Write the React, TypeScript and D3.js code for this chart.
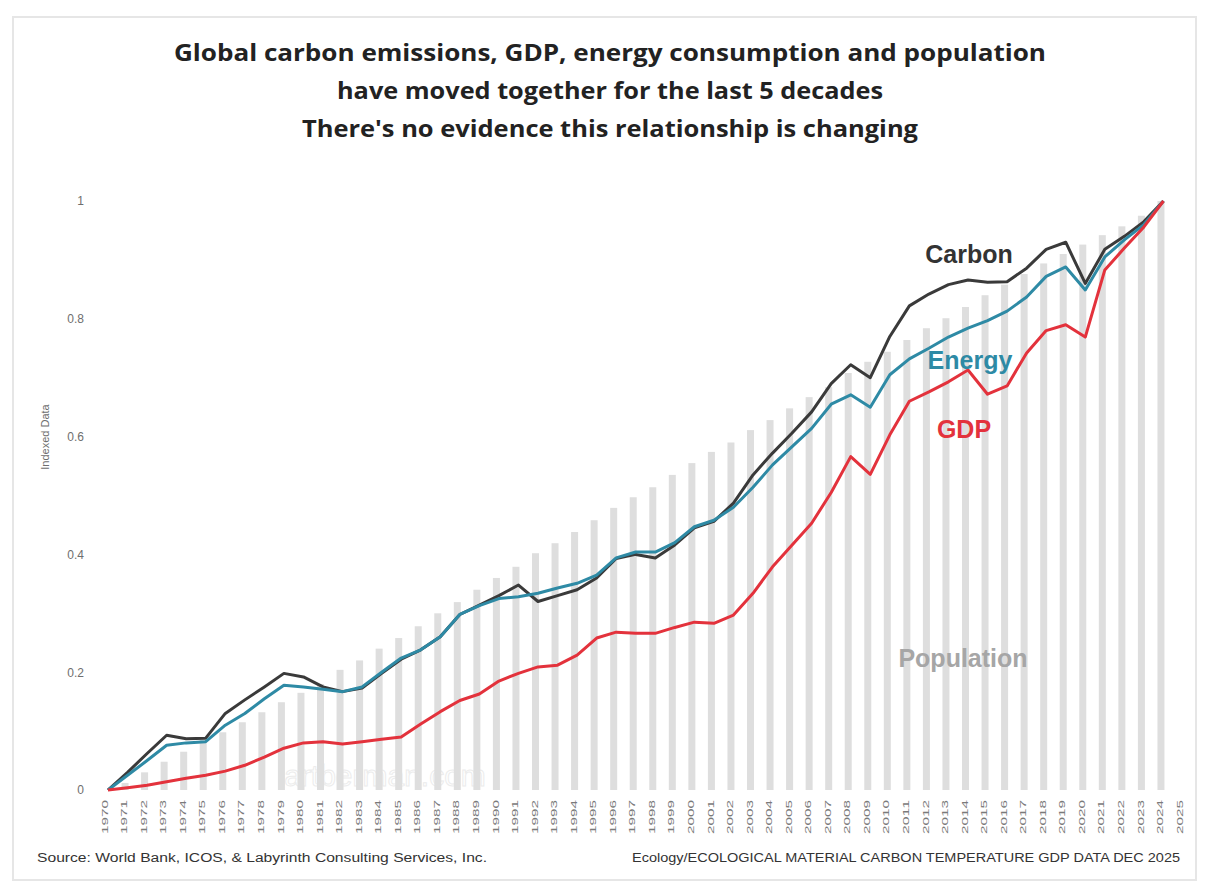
import { useEffect, useRef } from 'react';
import * as d3 from 'd3';

const years = [
  1970, 1971, 1972, 1973, 1974, 1975, 1976, 1977, 1978, 1979,
  1980, 1981, 1982, 1983, 1984, 1985, 1986, 1987, 1988, 1989,
  1990, 1991, 1992, 1993, 1994, 1995, 1996, 1997, 1998, 1999,
  2000, 2001, 2002, 2003, 2004, 2005, 2006, 2007, 2008, 2009,
  2010, 2011, 2012, 2013, 2014, 2015, 2016, 2017, 2018, 2019,
  2020, 2021, 2022, 2023, 2024, 2025,
];

// indexed values 1970..2024
const carbon = [
  0, 0.03, 0.062, 0.093, 0.087, 0.088, 0.13, 0.153, 0.175, 0.198,
  0.192, 0.175, 0.167, 0.173, 0.198, 0.222, 0.238, 0.26, 0.298, 0.314,
  0.33, 0.348, 0.32, 0.33, 0.34, 0.36, 0.393, 0.4, 0.394, 0.416,
  0.445, 0.456, 0.487, 0.535, 0.572, 0.606, 0.642, 0.69, 0.722, 0.7,
  0.77, 0.822, 0.842, 0.858, 0.866, 0.862, 0.863, 0.886, 0.918, 0.93,
  0.86, 0.918, 0.94, 0.965, 1.0,
];
const energy = [
  0, 0.025, 0.05, 0.076, 0.08, 0.082, 0.11, 0.13, 0.155, 0.178,
  0.175, 0.171, 0.167, 0.175, 0.2, 0.224, 0.238, 0.26, 0.298, 0.313,
  0.325, 0.328, 0.334, 0.343, 0.351, 0.365, 0.394, 0.404, 0.404, 0.42,
  0.447, 0.458, 0.48, 0.514, 0.552, 0.583, 0.614, 0.655, 0.671, 0.65,
  0.705, 0.732, 0.75, 0.769, 0.784, 0.797, 0.813, 0.837, 0.872, 0.888,
  0.849, 0.905, 0.934, 0.96, 1.0,
];
const gdp = [
  0, 0.004, 0.008, 0.014, 0.02, 0.025, 0.032, 0.042, 0.056, 0.071,
  0.08, 0.082, 0.078, 0.082, 0.086, 0.09, 0.112, 0.133, 0.152, 0.163,
  0.185, 0.198, 0.209, 0.212, 0.229, 0.258, 0.268, 0.266, 0.266, 0.276,
  0.285, 0.283, 0.297, 0.334, 0.379, 0.416, 0.453, 0.505, 0.566, 0.536,
  0.603, 0.66, 0.676, 0.693, 0.713, 0.672, 0.686, 0.742, 0.78, 0.79,
  0.769, 0.883, 0.92, 0.956, 1.0,
];
const population = [
  0, 0.012, 0.03, 0.048, 0.065, 0.085, 0.098, 0.115, 0.132, 0.149,
  0.165, 0.18, 0.204, 0.22, 0.24, 0.258, 0.278, 0.3, 0.319, 0.34,
  0.36, 0.379, 0.402, 0.419, 0.438, 0.458, 0.479, 0.497, 0.514, 0.535,
  0.555, 0.574, 0.59, 0.611, 0.628, 0.648, 0.667, 0.684, 0.708, 0.727,
  0.744, 0.764, 0.784, 0.801, 0.82, 0.84, 0.858, 0.876, 0.894, 0.91,
  0.926, 0.942, 0.957, 0.975, 1.0,
];
const yTicks = [0, 0.2, 0.4, 0.6, 0.8, 1];

const titleLines = [
  'Global carbon emissions, GDP, energy consumption and population',
  'have moved together for the last 5 decades',
  "There's no evidence this relationship is changing",
];

function App() {
  const svgRef = useRef<SVGSVGElement>(null);

  useEffect(() => {
    const w = 1209;
    const h = 884;
    const svg = d3.select(svgRef.current);
    svg.selectAll('*').remove();

    svg.append('rect')
      .attr('x', 0).attr('y', 0).attr('width', w).attr('height', h)
      .attr('fill', '#fff');
    // light frame
    svg.append('rect')
      .attr('x', 13).attr('y', 17).attr('width', 1183).attr('height', 863)
      .attr('fill', 'none').attr('stroke', '#e6e6e6').attr('stroke-width', 2);

    const xScale = d3.scalePoint<number>().domain(years).range([108, 1183]);
    const yScale = d3.scaleLinear().domain([0, 1]).range([790, 201]);

    // title
    const titleWidths = [872, 546, 616];
    svg.append('g').selectAll('text').data(titleLines).enter()
      .append('text')
      .attr('x', 610)
      .attr('y', (d, i) => 61 + i * 38)
      .attr('text-anchor', 'middle')
      .attr('font-family', 'Open Sans, sans-serif')
      .attr('font-weight', 700)
      .attr('font-size', 24)
      .attr('fill', '#222')
      .attr('textLength', (d, i) => titleWidths[i])
      .attr('lengthAdjust', 'spacingAndGlyphs')
      .text(d => d);

    // watermark
    svg.append('text')
      .attr('x', 385).attr('y', 786)
      .attr('text-anchor', 'middle')
      .attr('font-family', 'Liberation Sans, sans-serif')
      .attr('font-size', 30)
      .attr('fill', 'none')
      .attr('stroke', '#ececec')
      .attr('stroke-width', 1)
      .text('artberman.com');

    // population bars
    svg.append('g').selectAll('.bar').data(population).enter()
      .append('rect')
      .attr('class', 'bar')
      .attr('x', (d, i) => (xScale(years[i]) as number) - 6)
      .attr('y', d => yScale(d))
      .attr('width', 7)
      .attr('height', d => yScale(0) - yScale(d))
      .attr('fill', '#dedede');

    // y axis
    const yAxis = svg.append('g')
      .attr('transform', 'translate(84,0)')
      .call(d3.axisLeft(yScale).tickValues(yTicks).tickSize(0).tickPadding(0)
        .tickFormat(d => String(d)));
    yAxis.select('.domain').remove();
    yAxis.selectAll('text')
      .attr('font-family', 'Liberation Sans, sans-serif')
      .attr('font-size', 12)
      .attr('fill', '#6e6e6e');

    svg.append('text')
      .attr('transform', 'translate(49,437) rotate(-90)')
      .attr('text-anchor', 'middle')
      .attr('font-family', 'Liberation Sans, sans-serif')
      .attr('font-size', 11)
      .attr('fill', '#6e6e6e')
      .text('Indexed Data');

    // x axis
    const xAxis = svg.append('g')
      .attr('transform', 'translate(-4,800)')
      .call(d3.axisBottom(xScale).tickSize(0).tickPadding(0).tickFormat(d => String(d)));
    xAxis.select('.domain').remove();
    xAxis.selectAll('text')
      .attr('font-family', 'Liberation Sans, sans-serif')
      .attr('font-size', 9)
      .attr('fill', '#7a7a7a')
      .attr('text-anchor', 'end')
      .attr('dx', 0)
      .attr('dy', '0.35em')
      .attr('y', 0)
      .attr('transform', 'rotate(-90)')
      .attr('textLength', 34)
      .attr('lengthAdjust', 'spacingAndGlyphs');

    // lines
    const line = d3.line<number>()
      .x((d, i) => xScale(years[i]) as number)
      .y(d => yScale(d));
    const series = [
      { values: carbon, color: '#3a3a3a' },
      { values: energy, color: '#2e8aa5' },
      { values: gdp, color: '#e3323c' },
    ];
    series.forEach(s => {
      svg.append('path')
        .datum(s.values)
        .attr('d', line)
        .attr('fill', 'none')
        .attr('stroke', s.color)
        .attr('stroke-width', 3)
        .attr('stroke-linejoin', 'round');
    });

    // series labels
    const labels = [
      { text: 'Carbon', x: 969, y: 263, color: '#333' },
      { text: 'Energy', x: 970, y: 369, color: '#2e8aa5' },
      { text: 'GDP', x: 964, y: 438, color: '#e3323c' },
      { text: 'Population', x: 963, y: 667, color: '#a6a6a6' },
    ];
    svg.append('g').selectAll('text').data(labels).enter()
      .append('text')
      .attr('x', d => d.x)
      .attr('y', d => d.y)
      .attr('text-anchor', 'middle')
      .attr('font-family', 'Liberation Sans, Arial, sans-serif')
      .attr('font-weight', 700)
      .attr('font-size', 25)
      .attr('fill', d => d.color)
      .text(d => d.text);

    // footer
    svg.append('text')
      .attr('x', 37).attr('y', 862)
      .attr('font-family', 'Liberation Sans, sans-serif')
      .attr('font-size', 12)
      .attr('fill', '#333')
      .attr('textLength', 450)
      .attr('lengthAdjust', 'spacingAndGlyphs')
      .text('Source: World Bank,  ICOS, & Labyrinth Consulting Services, Inc.');
    svg.append('text')
      .attr('x', 1180).attr('y', 862)
      .attr('text-anchor', 'end')
      .attr('font-family', 'Liberation Sans, sans-serif')
      .attr('font-size', 12)
      .attr('fill', '#333')
      .attr('textLength', 548)
      .attr('lengthAdjust', 'spacingAndGlyphs')
      .text('Ecology/ECOLOGICAL MATERIAL CARBON TEMPERATURE GDP DATA DEC 2025');
  }, []);

  return (
    <div className='Graph'>
      <svg
        ref={svgRef}
        width={1209}
        height={884}
        style={{ position: 'absolute', left: 0, top: 0 }}
      ></svg>
    </div>
  );
}

export default App;
